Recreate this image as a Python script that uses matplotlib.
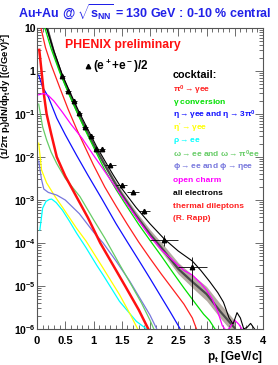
import numpy as np
import matplotlib
matplotlib.use("Agg")
import matplotlib.pyplot as plt
from matplotlib.ticker import FixedLocator, MultipleLocator, LogLocator, NullFormatter

plt.rcParams['font.family'] = ['Liberation Sans', 'DejaVu Sans']
plt.rcParams['font.weight'] = 'bold'
plt.rcParams['mathtext.fontset'] = 'custom'
plt.rcParams['mathtext.rm'] = 'Liberation Sans:bold'
plt.rcParams['mathtext.it'] = 'Liberation Sans:bold'
plt.rcParams['mathtext.bf'] = 'Liberation Sans:bold'

# --- data ---
pt_data = [0.45, 0.55, 0.65, 0.75, 0.85, 0.95, 1.05, 1.15, 1.3, 1.5, 1.7, 1.9, 2.25, 2.75]
y_data = [0.75, 0.336, 0.204, 0.105, 0.050, 0.030, 0.0156, 0.0151, 6.4e-3, 2.28e-3, 1.53e-3, 5.45e-4, 1.15e-4, 2.7e-5]
x_err = [0.05, 0.05, 0.05, 0.05, 0.05, 0.05, 0.05, 0.05, 0.1, 0.1, 0.1, 0.1, 0.25, 0.25]
y_err_lo = [0.03, 0.015, 0.009, 0.005, 0.0025, 0.0015, 0.0008, 0.0008, 3.5e-4, 2.2e-4, 1.5e-4, 6e-5, 3e-5, 2.34e-5]
y_err_hi = [0.03, 0.015, 0.009, 0.005, 0.0025, 0.0015, 0.0008, 0.0008, 3.5e-4, 2.2e-4, 1.5e-4, 6e-5, 3.5e-5, 2.0e-5]

band_pt = [0.18, 0.3, 0.45, 0.6, 0.75, 0.9, 1.05, 1.2, 1.35, 1.5, 1.75, 2.0, 2.25, 2.5, 2.75, 3.0, 3.25, 3.5]
band_y = [10, 2.7, 0.72, 0.25, 0.09, 0.036, 0.0148, 6.5e-3, 2.9e-3, 1.35e-3, 4.4e-4, 1.6e-4, 6.5e-5, 2.5e-5, 1.25e-5, 6.5e-6, 2.5e-6, 1.05e-6]
band_rel = [0.12, 0.12, 0.12, 0.12, 0.12, 0.13, 0.14, 0.15, 0.17, 0.2, 0.24, 0.28, 0.33, 0.4, 0.45, 0.5, 0.5, 0.5]

all_pt = [0.17, 0.3, 0.45, 0.6, 0.75, 0.9, 1.05, 1.2, 1.35, 1.5, 1.75, 2.0, 2.25, 2.5, 2.75, 2.9, 3.05, 3.2, 3.3,
          3.4, 3.47, 3.54, 3.6, 3.66, 3.72, 3.78, 3.85, 3.92]
all_y = [10, 2.9, 0.8, 0.29, 0.108, 0.044, 0.018, 8.2e-3, 3.8e-3, 1.85e-3, 6.8e-4, 2.8e-4, 1.25e-4, 6.5e-5, 3.8e-5,
         2.3e-5, 1.3e-5, 7.0e-6, 4.2e-6, 1.8e-6, 1.3e-6, 2.4e-6, 1.8e-6, 1.0e-6, 1.1e-6, 1.35e-6, 1.0e-6, 8e-7]

conv_pt = [0.14, 0.25, 0.4, 0.55, 0.7, 0.85, 1.0, 1.2, 1.4, 1.6, 1.8, 2.0, 2.2, 2.4, 2.6, 2.8, 2.95, 3.05, 3.15, 3.25]
conv_y = [10, 3.3, 0.95, 0.32, 0.115, 0.043, 0.017, 5.0e-3, 1.75e-3, 6.8e-4, 2.7e-4, 1.15e-4, 5.0e-5, 2.1e-5,
          9.0e-6, 4.0e-6, 2.2e-6, 1.6e-6, 1.0e-6, 7e-7]

pi0_pt = [0.07, 0.15, 0.25, 0.4, 0.55, 0.7, 0.85, 1.0, 1.2, 1.4, 1.6, 1.8, 2.0, 2.2, 2.4, 2.6, 2.75, 2.85]
pi0_y = [10, 3.5, 1.4, 0.42, 0.13, 0.045, 0.017, 6.5e-3, 2.0e-3, 7.2e-4, 2.7e-4, 1.05e-4, 4.4e-5, 1.9e-5, 8.5e-6,
         3.8e-6, 1.8e-6, 8e-7]

thermal_pt = [0.04, 0.08, 0.12, 0.17, 0.25, 0.35, 0.5, 0.73, 0.9, 1.12, 1.35, 1.56, 1.8, 1.97, 2.02]
thermal_y = [3.1, 1.0, 0.3, 0.1, 0.035, 0.01, 3.6e-3, 1.0e-3, 3.9e-4, 1.0e-4, 3.0e-5, 1.0e-5, 2.8e-6, 1.0e-6, 7e-7]

eta_pt = [0.03, 0.1, 0.2, 0.35, 0.5, 0.7, 0.9, 1.15, 1.4, 1.6, 1.8, 2.0, 2.2, 2.35, 2.5, 2.6]
eta_y = [0.8, 0.42, 0.25, 0.08, 0.033, 0.011, 3.8e-3, 1.05e-3, 2.8e-4, 1.05e-4, 4.0e-5, 1.5e-5, 5.5e-6, 2.6e-6,
         1.2e-6, 7e-7]

charm_pt = [0.03, 0.12, 0.2, 0.3, 0.45, 0.6, 0.8, 1.0, 1.2, 1.4, 1.6, 1.8, 2.0, 2.2, 2.4, 2.6, 2.75, 2.9, 3.0,
            3.1, 3.2, 3.28, 3.35, 3.42, 3.5, 3.57, 3.65, 3.8, 3.95]
charm_y = [0.28, 0.30, 0.27, 0.2, 0.11, 0.058, 0.027, 0.011, 4.6e-3, 1.9e-3, 7.8e-4, 3.3e-4, 1.45e-4, 7.0e-5,
           4.0e-5, 2.3e-5, 1.8e-5, 1.15e-5, 8e-6, 5e-6, 2.5e-6, 1.2e-6, 9e-7, 1.1e-6, 1.6e-6, 1.3e-6, 9e-7,
           9e-7, 9e-7]

phi_pt = [0.03, 0.08, 0.12, 0.2, 0.35, 0.5, 0.75, 1.0, 1.17, 1.4, 1.64, 1.85, 2.0, 2.12]
phi_y = [8e-3, 3e-3, 1.8e-3, 1.5e-3, 1.3e-3, 1.0e-3, 4.8e-4, 1.8e-4, 1.0e-4, 3.8e-5, 1.3e-5, 4.5e-6, 2.1e-6, 1e-6]

omega_pt = [0.03, 0.1, 0.17, 0.25, 0.35, 0.5, 0.76, 1.0, 1.2, 1.46, 1.68, 1.85, 2.0, 2.1]
omega_y = [0.17, 0.05, 0.025, 0.013, 7e-3, 3.2e-3, 1.2e-3, 3.5e-4, 1.3e-4, 3.2e-5, 1.0e-5, 4.0e-6, 1.6e-6, 8e-7]

etap_pt = [0.03, 0.08, 0.17, 0.32, 0.46, 0.7, 0.87, 1.17, 1.46, 1.65, 1.8]
etap_y = [0.021, 5e-3, 2.5e-3, 1.2e-3, 6.5e-4, 2.2e-4, 1.1e-4, 2.6e-5, 6.3e-6, 2.2e-6, 9e-7]

rho_pt = [0.05, 0.1, 0.16, 0.22, 0.26, 0.34, 0.45, 0.575, 0.7, 0.87, 1.06, 1.17, 1.46, 1.76, 1.94]
rho_y = [2e-4, 6.5e-4, 9.3e-4, 1.03e-3, 1.05e-3, 8.7e-4, 5.8e-4, 3.2e-4, 1.7e-4, 7.7e-5, 3.0e-5, 1.8e-5, 4.4e-6,
         1.5e-6, 1e-6]

x_ticks = [0, 0.5, 1, 1.5, 2, 2.5, 3, 3.5, 4]
x_tick_labels = ['0', '0.5', '1', '1.5', '2', '2.5', '3', '3.5', '4']
y_ticks = [1e-6, 1e-5, 1e-4, 1e-3, 1e-2, 1e-1, 1, 10]
y_tick_labels = [r'$10^{-6}$', r'$10^{-5}$', r'$10^{-4}$', r'$10^{-3}$', r'$10^{-2}$', r'$10^{-1}$', '1', '10']

legend_labels = [
    ("cocktail:", "black"),
    (r"$\pi^0\rightarrow\gamma$ee", "#ff2020"),
    (r"$\gamma$ conversion", "#00e000"),
    (r"$\eta\rightarrow\gamma$ee and $\eta\rightarrow3\pi^0$", "#1010ff"),
    (r"$\eta'\rightarrow\gamma$ee", "#ffff00"),
    (r"$\rho\rightarrow$ee", "#00ffff"),
    (r"$\omega\rightarrow$ee and $\omega\rightarrow\pi^0$ee", "#66cc66"),
    (r"$\phi\rightarrow$ee and $\phi\rightarrow\eta$ee", "#7777dd"),
    ("open charm", "#ff00ff"),
    ("all electrons", "black"),
    ("thermal dileptons", "#ff2020"),
    ("(R. Rapp)", "#ff2020"),
]
legend_rows = [75, 90, 102, 115, 128, 141, 154, 167, 180, 193, 206, 219]

W, H = 278, 365
fig = plt.figure(figsize=(W / 100, H / 100), dpi=100)
ax = fig.add_axes([37 / W, 1 - 329 / H, 226 / W, 301 / H])
ax.set_yscale('log')
ax.set_xlim(0, 4)
ax.set_ylim(1e-6, 10)

band_lo = [v * (1 - 0.6 * r) for v, r in zip(band_y, band_rel)]
band_hi = [v * (1 + r) for v, r in zip(band_y, band_rel)]
ax.fill_between(band_pt, band_lo, band_hi, color='#b4aaa2', lw=0, zorder=1)
ax.plot(band_pt, band_y, color='#4a4a4a', lw=1.6, zorder=2)

ax.plot(rho_pt, rho_y, color='#00ffff', lw=0.9, zorder=3)
ax.plot(etap_pt, etap_y, color='#ffff00', lw=0.9, zorder=3)
ax.plot(phi_pt, phi_y, color='#7777dd', lw=0.9, zorder=3)
ax.plot(omega_pt, omega_y, color='#66cc66', lw=0.9, zorder=3)
ax.plot(eta_pt, eta_y, color='#1010ff', lw=0.9, zorder=3)
ax.plot(thermal_pt, thermal_y, color='#ff1010', lw=1.8, zorder=3)
ax.plot(pi0_pt, pi0_y, color='#ff2020', lw=0.9, zorder=3)
ax.plot(conv_pt, conv_y, color='#00e000', lw=0.9, zorder=3)
ax.plot(charm_pt, charm_y, color='#ff00ff', lw=0.9, zorder=4)
ax.plot(all_pt, all_y, color='black', lw=0.8, zorder=4)

ax.errorbar(pt_data, y_data, xerr=x_err, yerr=[y_err_lo, y_err_hi], fmt='^', color='black',
            ms=3.2, elinewidth=0.6, capsize=0, zorder=5)

# axes styling (ROOT-like)
for s in ax.spines.values():
    s.set_color('#555555')
    s.set_linewidth(0.8)
ax.xaxis.set_major_locator(FixedLocator(x_ticks))
ax.xaxis.set_minor_locator(MultipleLocator(0.1))
ax.set_xticklabels(x_tick_labels)
ax.yaxis.set_major_locator(FixedLocator(y_ticks))
ax.yaxis.set_minor_locator(LogLocator(base=10, subs=np.arange(2, 10)))
ax.yaxis.set_minor_formatter(NullFormatter())
ax.set_yticklabels(y_tick_labels)
ax.tick_params(which='both', direction='in', top=True, right=True, color='#555555', width=0.6,
               labelsize=8.0)
ax.tick_params(axis='y', labelsize=7.5, pad=1.0)
ax.tick_params(which='major', length=6)
ax.tick_params(which='minor', length=3)
ax.tick_params(axis='x', pad=5)

fig.text(145 / W, 1 - 12 / H, r'Au+Au @ $\sqrt{s_{NN}}$ = 130 GeV : 0-10 % central', color='#2020e8',
         fontsize=9.0, fontweight='bold', ha='center', va='center')
fig.text(6.8 / W, 1 - 33 / H, r'$(1/2\pi\ p_t)dN/dp_tdy\ [(c/GeV)^2]$', rotation=90, fontsize=6.8,
         ha='center', va='top')
fig.text(263 / W, 1 - 357 / H, r'$p_t$ [GeV/c]', fontsize=8.5, ha='right', va='center')

fig.text(65 / W, 1 - 45 / H, 'PHENIX preliminary', color='#ff1010', fontsize=8.8, fontweight='bold',
         va='center')
fig.text(93 / W, 1 - 66 / H, r'(e$^+$+e$^-$)/2', color='black', fontsize=8.5, va='center')

for (txt, col), row in zip(legend_labels, legend_rows):
    size = 7.8 if txt == 'cocktail:' else 6.0
    fig.text(173 / W, 1 - row / H, txt, color=col, fontsize=size, fontweight='bold', va='center')

# marker in front of the (e+ + e-)/2 label
lx = ax.transData.inverted().transform(fig.transFigure.transform((87.5 / W, 1 - 66 / H)))
ax.errorbar([lx[0]], [lx[1]], yerr=[[lx[1] * 0.08], [lx[1] * 0.08]], fmt='^', color='black', ms=3.2,
            elinewidth=0.6, capsize=0, zorder=5)

fig.savefig('out.png', dpi=100)
